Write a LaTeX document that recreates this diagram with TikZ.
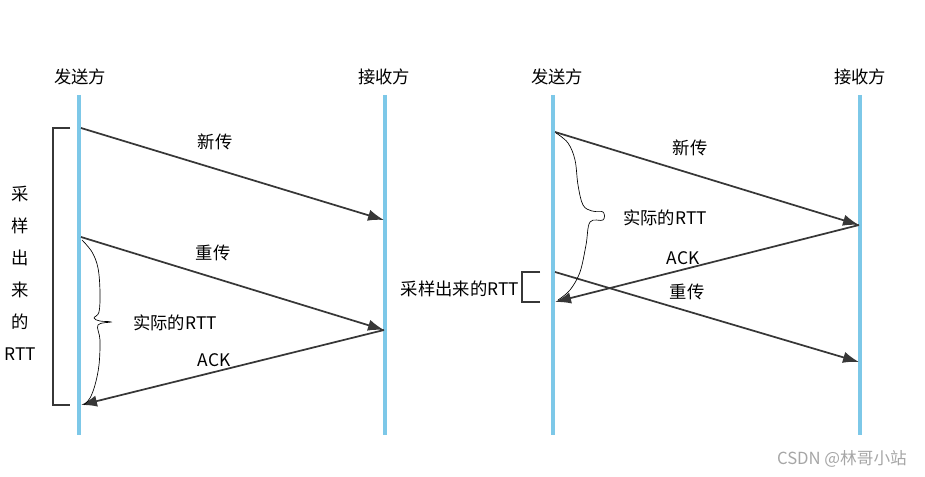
\documentclass[tikz,border=0pt]{standalone}
\usepackage{fontspec}
\setmainfont{Noto Sans CJK SC}
\usetikzlibrary{arrows.meta}
\definecolor{lifeblue}{RGB}{125,200,232}
\definecolor{msggray}{RGB}{55,55,55}
\begin{document}
\begin{tikzpicture}[x=0.75pt, y=-0.75pt,
    lifeline/.style={draw=lifeblue, line width=2.8pt},
    msg/.style={draw=msggray, line width=1.3pt, -{Latex[length=12pt,width=8.5pt]}},
    lbl/.style={font=\fontsize{13}{15}\selectfont, inner sep=1pt},
    bracket/.style={draw=msggray, line width=1.3pt},
    brace/.style={draw=black, line width=0.5pt}]
 \useasboundingbox (0,0) rectangle (925,477);
    % left diagram
 \node[lbl] (sendL) at (80,77) {发送方};
 \node[lbl] (recvL) at (384,77) {接收方};
 \coordinate (sLtop) at (79,95);
 \coordinate (sLbot) at (79,435);
 \coordinate (rLtop) at (385,95);
 \coordinate (rLbot) at (385,435);
 \draw[lifeline] (sLtop) -- (sLbot);
 \draw[lifeline] (rLtop) -- (rLbot);
 \coordinate (aL1) at (81,128);
 \coordinate (bL1) at (384,220);
 \coordinate (aL2) at (81,237);
 \coordinate (bL2) at (384,330);
 \coordinate (cL3) at (81,405);
 \draw[msg] (aL1) -- (bL1);
 \draw[msg] (aL2) -- (bL2);
 \draw[msg] (bL2) -- (cL3);
 \node[lbl] (newL) at (215,142) {新传};
 \node[lbl] (retxL) at (213,253) {重传};
 \node[lbl] (ackL) at (214,360) {ACK};
 \draw[bracket] (70,128) -- (53,128) -- (53,405) -- (70,405);
 \node[lbl, align=center] (sampL) at (20,273)
    {采\\[9pt]样\\[9pt]出\\[9pt]来\\[9pt]的\\[9pt]RTT};
 \draw[brace] plot[smooth, tension=0.6] coordinates {(82,240) (92,252) (98,268) (100,292)
    (99,312) (94,318) (100,321) (111,322) (98,325) (100,340) (99,365) (95,385) (90,398) (84,405)};
 \node[lbl] (realL) at (175,323) {实际的RTT};
    % right diagram
 \node[lbl] (sendR) at (557,77) {发送方};
 \node[lbl] (recvR) at (860,77) {接收方};
 \coordinate (sRtop) at (553,95);
 \coordinate (sRbot) at (553,435);
 \coordinate (rRtop) at (860,95);
 \coordinate (rRbot) at (860,435);
 \draw[lifeline] (sRtop) -- (sRbot);
 \draw[lifeline] (rRtop) -- (rRbot);
 \coordinate (aR1) at (555,132);
 \coordinate (bR1) at (859,225);
 \coordinate (cR2) at (555,302);
 \coordinate (aR3) at (555,272);
 \coordinate (bR3) at (859,362);
 \draw[msg] (aR1) -- (bR1);
 \draw[msg] (bR1) -- (cR2);
 \draw[msg] (aR3) -- (bR3);
 \node[lbl] (newR) at (690,148) {新传};
 \node[lbl] (ackR) at (683,258) {ACK};
 \node[lbl] (retxR) at (687,292) {重传};
 \draw[brace] plot[smooth, tension=0.6] coordinates {(556,133) (568,143) (575,160) (578,185)
    (583,205) (592,211) (603,212) (603,220) (590,222) (586,245) (580,272) (570,290) (558,300)};
 \node[lbl] (realR) at (665,218) {实际的RTT};
 \draw[bracket] (540,272) -- (522,272) -- (522,302) -- (540,302);
 \node[lbl] (sampR) at (460,289) {采样出来的RTT};
    % watermark
 \node[font=\fontsize{12.5}{14}\selectfont, text=gray!70] (mark) at (842,459) {CSDN @林哥小站};
\end{tikzpicture}
\end{document}
